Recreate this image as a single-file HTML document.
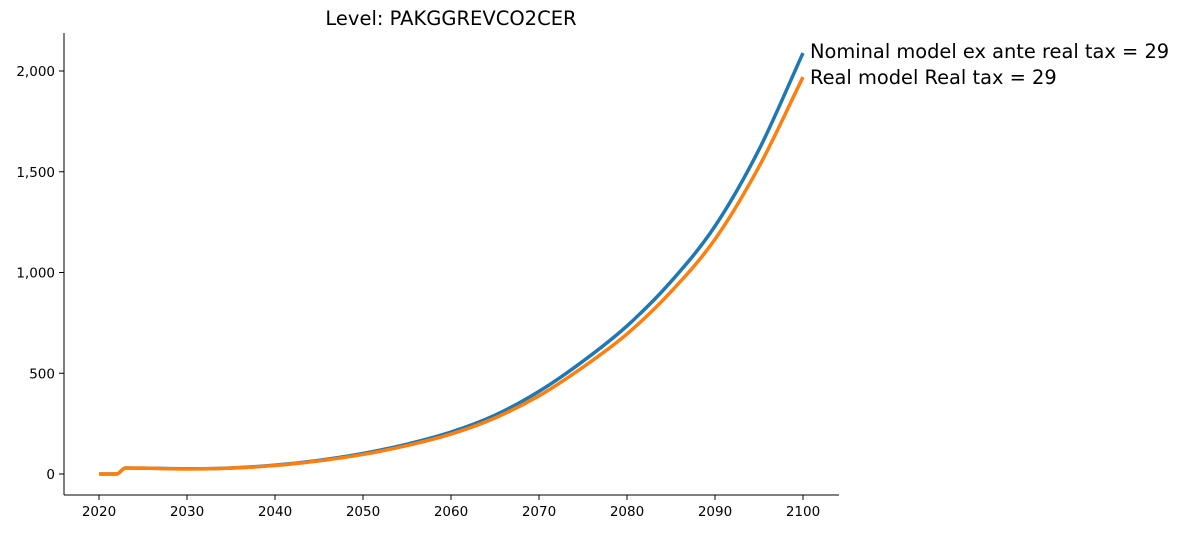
<!DOCTYPE html>
<html><head><meta charset="utf-8"><style>
body{margin:0;background:#fff;font-family:"Liberation Sans","DejaVu Sans",sans-serif}
svg text{font-family:"DejaVu Sans","Liberation Sans",sans-serif}
</style></head><body>
<svg id="chart" width="1179" height="529" xmlns="http://www.w3.org/2000/svg">
<text x="451" y="25" font-size="19.5" text-anchor="middle">Level: PAKGGREVCO2CER</text>
<g id="axes"></g><g id="lines"></g>
</svg>
<script>
const years=[2020,2021,2022,2023,2025,2030,2035,2040,2045,2050,2055,2060,2065,2070,2075,2080,2085,2090,2095,2100];
const nominal=[0,0,0,30,29,26,30,44,68,102,148,208,292,410,560,735,955,1230,1610,2089];
const real=[0,0,0,30,29,25,29,42,65,97,141,198,278,388,530,695,905,1165,1525,1970];
const xTicks=[2020,2030,2040,2050,2060,2070,2080,2090,2100];
const yTicks=[0,500,1000,1500,2000];
const yTickLabels=["0","500","1,000","1,500","2,000"];
const seriesNames=["Nominal model ex ante real tax = 29","Real model Real tax = 29"];
const NS="http://www.w3.org/2000/svg";
const X=v=>99+(v-2020)*8.8;
const Y=v=>474-v*0.2015;
const ax=document.getElementById('axes'),ln=document.getElementById('lines');
function mk(tag,a,p){const e=document.createElementNS(NS,tag);for(const k in a)e.setAttribute(k,a[k]);p.appendChild(e);return e;}
function monoPath(xs,ys){
 const n=xs.length,d=[],m=[];
 for(let i=0;i<n-1;i++)d.push((ys[i+1]-ys[i])/(xs[i+1]-xs[i]));
 m[0]=d[0];m[n-1]=d[n-2];
 for(let i=1;i<n-1;i++){m[i]=(d[i-1]*d[i]<=0)?0:(d[i-1]+d[i])/2;}
 for(let i=0;i<n-1;i++){if(d[i]===0){m[i]=0;m[i+1]=0;continue;}const a=m[i]/d[i],b=m[i+1]/d[i],s=a*a+b*b;if(s>9){const t=3/Math.sqrt(s);m[i]=t*a*d[i];m[i+1]=t*b*d[i];}}
 let p='M'+xs[0]+','+ys[0];
 for(let i=0;i<n-1;i++){const h=(xs[i+1]-xs[i])/3;p+=' C'+(xs[i]+h)+','+(ys[i]+m[i]*h)+' '+(xs[i+1]-h)+','+(ys[i+1]-m[i+1]*h)+' '+xs[i+1]+','+ys[i+1];}
 return p;}
const sl=mk('line',{x1:64,y1:33,x2:64,y2:495,stroke:'#000','stroke-width':1},ax);


const sb=mk('line',{x1:64,y1:495,x2:839,y2:495,stroke:'#000','stroke-width':1},ax);


xTicks.forEach(t=>{const x=X(t);
 mk('line',{x1:x,y1:495,x2:x,y2:500,stroke:'#000'},ax);
 const tx=mk('text',{x:x,y:516,'font-size':13.5,'text-anchor':'middle'},ax);tx.textContent=t;
 
 });
yTicks.forEach((t,i)=>{const y=Y(t);
 mk('line',{x1:59,y1:y,x2:64,y2:y,stroke:'#000'},ax);
 const tx=mk('text',{x:55,y:y+5,'font-size':13.5,'text-anchor':'end'},ax);tx.textContent=yTickLabels[i];
 
 });
[[nominal,'#1f77b4'],[real,'#ff7f0e']].forEach(([d,c],i)=>{
 const p=mk('path',{d:monoPath(years.map(X),d.map(Y)),fill:'none',stroke:c,'stroke-width':3.5,'stroke-linejoin':'round'},ln);
 
 
 const t=mk('text',{x:810,y:Y(d[d.length-1])+5+(i?2:0),'font-size':19.4},ln);t.textContent=seriesNames[i];
 
 
});
</script>
</body></html>
